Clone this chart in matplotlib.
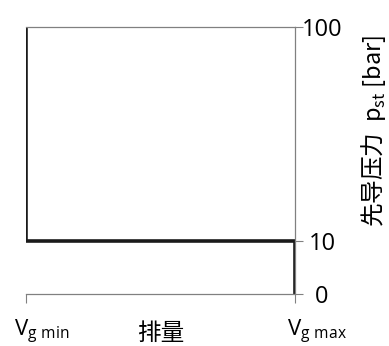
import matplotlib
matplotlib.use("Agg")
import matplotlib.pyplot as plt
import matplotlib.transforms as mtransforms
import numpy as np

# data
x_pos = [0, 0, 1, 1]
p_st = [100, 10, 10, 0]
y_ticks = [0, 10, 100]
y_ticklabels = ["0", "10", "100"]
x_ticks = [0, 1]
x_ticklabels = [r"V$_\mathregular{g\ min}$", r"V$_\mathregular{g\ max}$"]

plt.rcParams['font.family'] = ['Open Sans', 'Noto Sans CJK SC', 'DejaVu Sans']
plt.rcParams['mathtext.fontset'] = 'custom'
plt.rcParams['mathtext.rm'] = 'Open Sans'

# piecewise scale: 0-10 takes the lower fifth, 10-100 the rest
k = 0.1985
def fwd(y):
    y = np.asarray(y, dtype=float)
    return np.where(y <= 10, y / 10 * k, k + (y - 10) / 90 * (1 - k))
def inv(v):
    v = np.asarray(v, dtype=float)
    return np.where(v <= k, v / k * 10, 10 + (v - k) / (1 - k) * 90)

fig = plt.figure(figsize=(3.89, 3.46), dpi=100)
ax = fig.add_axes([0.0668, 0.1503, 0.6915, 0.7717])
ax.set_yscale('function', functions=(fwd, inv))
ax.plot(x_pos, p_st, color="#1a1a1a", lw=2.6, solid_capstyle='butt', solid_joinstyle='miter')
ax.set_xlim(0, 1)
ax.set_ylim(0, 100)

gray = "#808080"
ax.spines["left"].set_visible(False)
for s in ["top", "right", "bottom"]:
    ax.spines[s].set_color(gray)
    ax.spines[s].set_linewidth(0.9)

ax.yaxis.tick_right()
ax.set_yticks(y_ticks)
ax.set_yticklabels(y_ticklabels, fontsize=17, ha='center')
ax.tick_params(axis='y', which='both', length=6, width=0.8, color=gray, pad=13.5)
ax.yaxis.set_minor_locator(matplotlib.ticker.NullLocator())

ax.set_xticks(x_ticks)
ax.set_xticklabels(x_ticklabels, fontsize=16)
ax.tick_params(axis='x', length=6.5, width=0.8, color=gray, pad=11)
offs = [16, 22]
for lab, dx in zip(ax.get_xticklabels(), offs):
    lab.set_transform(lab.get_transform() + mtransforms.ScaledTranslation(dx / 100, 0, fig.dpi_scale_trans))

ax.set_xlabel("排量", fontsize=17, labelpad=-17.5, fontfamily='Noto Sans CJK SC')

fig.text(373 / 389, 1 - 131 / 346, r"先导压力  p$_\mathregular{st}$ [bar]", rotation=90,
         fontsize=17, ha='center', va='center', fontfamily='Noto Sans CJK SC')

fig.savefig("out.png", dpi=100)
